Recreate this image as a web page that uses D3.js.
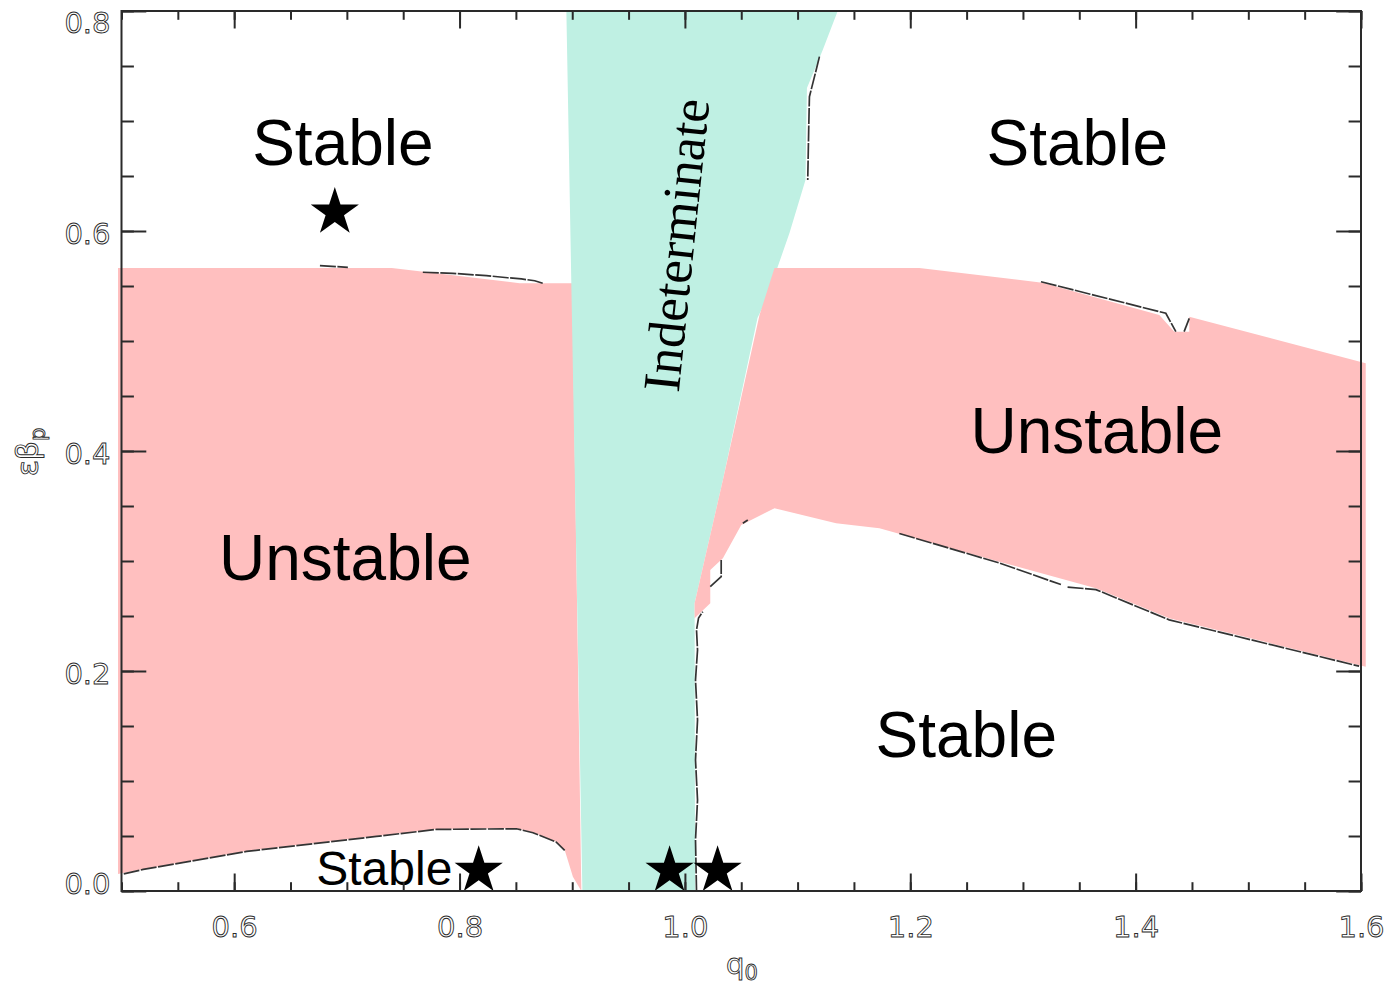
<!DOCTYPE html>
<html>
<head>
<meta charset="utf-8">
<script src="https://cdn.jsdelivr.net/npm/d3@7"></script>
<style>
  html, body { margin: 0; padding: 0; background: #fff; }
  svg { display: block; }
</style>
</head>
<body>
<svg id="chart" width="1389" height="986"></svg>
<script>
// ---------------- DATA ----------------
const xDomain = [0.5, 1.6];
const yDomain = [0.0, 0.8];
const xMajorTicks = [0.6, 0.8, 1.0, 1.2, 1.4, 1.6];
const xTickLabels = ["0.6", "0.8", "1.0", "1.2", "1.4", "1.6"];
const yMajorTicks = [0.0, 0.2, 0.4, 0.6, 0.8];
const yTickLabels = ["0.0", "0.2", "0.4", "0.6", "0.8"];
const minorStep = 0.05;

// region outlines as [q0, eps*beta_p]
const unstableLeft = [
  [0.4969, 0.5664], [0.7399, 0.5664], [0.8534, 0.5525], [0.9000, 0.5525],
  [0.9081, 0.0000], [0.9006, 0.0130], [0.8933, 0.0373], [0.8859, 0.0448],
  [0.8652, 0.0534], [0.8505, 0.0570], [0.7795, 0.0564], [0.7263, 0.0500],
  [0.6110, 0.0364], [0.5193, 0.0200], [0.4969, 0.0155]
];
const indeterminate = [
  [0.8948, 0.8000], [1.1356, 0.8000], [1.1223, 0.7645], [1.1083, 0.7300],
  [1.1070, 0.6464], [1.0928, 0.5982], [1.0721, 0.5373], [1.0644, 0.5209],
  [1.0337, 0.3736], [1.0086, 0.2615], [1.0090, 0.0000], [0.9090, 0.0000]
];
const unstableRight = [
  [1.0795, 0.5664], [1.0662, 0.5236], [1.0337, 0.3736], [1.0086, 0.2615],
  [1.0086, 0.2479], [1.0225, 0.2615], [1.0225, 0.2918], [1.0337, 0.3025],
  [1.0500, 0.3327], [1.0795, 0.3479], [1.1342, 0.3343], [1.1726, 0.3297],
  [1.2790, 0.2994], [1.3648, 0.2752], [1.4298, 0.2479], [1.6042, 0.2039],
  [1.6042, 0.4797], [1.4476, 0.5221], [1.4476, 0.5085], [1.4343, 0.5085],
  [1.4210, 0.5236], [1.3172, 0.5530], [1.2081, 0.5664]
];

// stability boundary contour pieces
const boundaries = [
  [[0.6761, 0.5685], [0.7009, 0.5670]],
  [[0.7674, 0.5625], [0.7940, 0.5615], [0.8239, 0.5594], [0.8427, 0.5575],
   [0.8549, 0.5564], [0.8667, 0.5548], [0.8738, 0.5525]],
  [[0.5020, 0.0155], [0.5193, 0.0196], [0.6110, 0.0360], [0.7263, 0.0496],
   [0.7795, 0.0560], [0.8505, 0.0566], [0.8652, 0.0530], [0.8859, 0.0444],
   [0.8933, 0.0369]],
  [[1.1194, 0.7585], [1.1150, 0.7403], [1.1105, 0.7221], [1.1099, 0.6948],
   [1.1090, 0.6464]],
  [[1.0103, 0.0000], [1.0094, 0.0464], [1.0112, 0.0827], [1.0094, 0.1191],
   [1.0112, 0.1555], [1.0094, 0.1918], [1.0112, 0.2191], [1.0103, 0.2373],
   [1.0121, 0.2482], [1.0159, 0.2539]],
  [[1.0225, 0.2766], [1.0322, 0.2857], [1.0322, 0.3009]],
  [[1.0514, 0.3343], [1.0558, 0.3373]],
  [[1.1903, 0.3250], [1.2790, 0.2982], [1.3337, 0.2786]],
  [[1.3396, 0.2763], [1.3648, 0.2740], [1.4298, 0.2465], [1.5983, 0.2044]],
  [[1.3160, 0.5539], [1.4268, 0.5252], [1.4357, 0.5085]],
  [[1.4430, 0.5085], [1.4476, 0.5206]]
];

const stars = [[0.6893, 0.6170], [0.8170, 0.0186], [0.9864, 0.0186], [1.0290, 0.0186]];

const regionLabels = ["Stable", "Stable", "Unstable", "Unstable", "Stable", "Stable"];
const regionLabelAnchors = [[0.6965, 0.660], [1.3482, 0.660], [1.3655, 0.3982],
                            [0.6986, 0.2827], [1.2497, 0.1218], [0.7332, 0.0055]];
const indeterminateLabel = "Indeterminate";
const indeterminateAnchor = [0.9922, 0.5873];

// ---------------- DRAW ----------------
const svg = d3.select("#chart");
const L = 121.5, R = 1361, T = 11, B = 891;
const x = d3.scaleLinear().domain(xDomain).range([L, R]);
const y = d3.scaleLinear().domain(yDomain).range([B, T]);

const line = d3.line().x(d => x(d[0])).y(d => y(d[1]));
const poly = pts => line(pts) + "Z";

const PINK = "#ffbfbf", TEAL = "#bff0e3";

svg.append("path").attr("d", poly(unstableLeft)).attr("fill", PINK);
svg.append("path").attr("d", poly(indeterminate)).attr("fill", TEAL);
svg.append("path").attr("d", poly(unstableRight)).attr("fill", PINK);

svg.append("g").selectAll("path").data(boundaries).join("path")
  .attr("d", d => line(d))
  .attr("fill", "none").attr("stroke", "#333").attr("stroke-width", 1.7)
  .attr("stroke-dasharray", "16,1.5");

svg.append("g").selectAll("path").data(stars).join("path")
  .attr("d", d3.symbol().type(d3.symbolStar).size(720))
  .attr("transform", d => `translate(${x(d[0])},${y(d[1])})`)
  .attr("fill", "#000");

svg.append("g").selectAll("text").data(regionLabels).join("text")
  .attr("x", (d, i) => x(regionLabelAnchors[i][0]))
  .attr("y", (d, i) => y(regionLabelAnchors[i][1]))
  .attr("text-anchor", "middle")
  .attr("font-family", "Liberation Sans, Arial, sans-serif")
  .attr("font-size", (d, i) => i === 5 ? 48 : 64)
  .attr("fill", "#000")
  .text(d => d);

svg.append("text")
  .attr("transform", `translate(${x(indeterminateAnchor[0])},${y(indeterminateAnchor[1])}) rotate(-84)`)
  .attr("text-anchor", "middle")
  .attr("dominant-baseline", "central")
  .attr("font-family", "Liberation Serif, Times New Roman, serif")
  .attr("font-size", 53)
  .attr("fill", "#000")
  .text(indeterminateLabel);

// ---------------- AXES ----------------
const axisColor = "#2a2a2a";
const xMinor = d3.range(xDomain[0], xDomain[1] + 1e-9, minorStep).map(v => +v.toFixed(3));
const yMinor = d3.range(yDomain[0], yDomain[1] + 1e-9, minorStep).map(v => +v.toFixed(3));

function styleAxis(g) {
  g.select(".domain").remove();
  g.selectAll(".tick line").attr("stroke", axisColor).attr("stroke-width", 2);
}
const labelStyle = t => t
  .attr("font-family", "DejaVu Sans, sans-serif").attr("font-size", 29)
  .attr("fill", "none").attr("stroke", axisColor).attr("stroke-width", 0.9);

// bottom
svg.append("g").attr("transform", `translate(0,${B})`)
  .call(d3.axisBottom(x).tickValues(xMinor).tickSize(-8.8).tickFormat(""))
  .call(styleAxis);
svg.append("g").attr("transform", `translate(0,${B})`)
  .call(d3.axisBottom(x).tickValues(xMajorTicks).tickSize(-17.5).tickPadding(0)
        .tickFormat((d, i) => xTickLabels[i]))
  .call(styleAxis)
  .call(g => labelStyle(g.selectAll(".tick text").attr("y", 46).attr("dy", 0)));
// top
svg.append("g").attr("transform", `translate(0,${T})`)
  .call(d3.axisTop(x).tickValues(xMinor).tickSize(-8.8).tickFormat(""))
  .call(styleAxis);
svg.append("g").attr("transform", `translate(0,${T})`)
  .call(d3.axisTop(x).tickValues(xMajorTicks).tickSize(-17.5).tickFormat(""))
  .call(styleAxis);
// left
svg.append("g").attr("transform", `translate(${L},0)`)
  .call(d3.axisLeft(y).tickValues(yMinor).tickSize(-12.4).tickFormat(""))
  .call(styleAxis);
svg.append("g").attr("transform", `translate(${L},0)`)
  .call(d3.axisLeft(y).tickValues(yMajorTicks).tickSize(-24.8)
        .tickFormat((d, i) => yTickLabels[i]))
  .call(styleAxis)
  .call(g => labelStyle(g.selectAll(".tick text")
    .attr("x", -11).attr("dy", (d) => {
      const py = y(d);
      const c = Math.min(Math.max(py + 2, T + 11), B - 8);
      return (c - py + 10.5) + "px";
    })));
// right
svg.append("g").attr("transform", `translate(${R},0)`)
  .call(d3.axisRight(y).tickValues(yMinor).tickSize(-12.4).tickFormat(""))
  .call(styleAxis);
svg.append("g").attr("transform", `translate(${R},0)`)
  .call(d3.axisRight(y).tickValues(yMajorTicks).tickSize(-24.8).tickFormat(""))
  .call(styleAxis);

// frame
svg.append("rect").attr("x", L).attr("y", T).attr("width", R - L).attr("height", B - T)
  .attr("fill", "none").attr("stroke", axisColor).attr("stroke-width", 2);

// axis titles (outlined glyph style)
const xt = svg.append("text")
  .attr("x", 742).attr("y", 974).attr("text-anchor", "middle")
  .attr("font-family", "DejaVu Sans, sans-serif").attr("font-size", 29)
  .attr("fill", "none").attr("stroke", axisColor).attr("stroke-width", 0.9);
xt.append("tspan").text("q");
xt.append("tspan").attr("font-size", 21).attr("dy", 6).text("0");

const yt = svg.append("text")
  .attr("transform", "translate(38,452) rotate(-90)").attr("text-anchor", "middle")
  .attr("font-family", "DejaVu Sans, sans-serif").attr("font-size", 30)
  .attr("fill", "none").attr("stroke", axisColor).attr("stroke-width", 0.9);
yt.append("tspan").text("εβ");
yt.append("tspan").attr("font-size", 21).attr("dy", 7).text("p");
</script>
</body>
</html>
